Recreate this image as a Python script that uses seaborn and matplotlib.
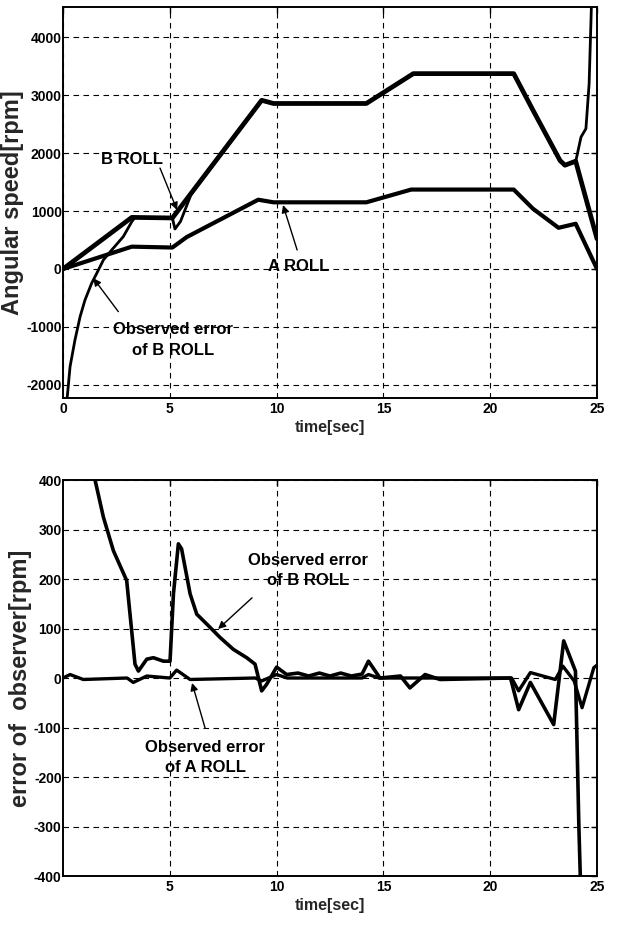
import matplotlib
matplotlib.use("Agg")
import matplotlib.pyplot as plt
import seaborn as sns

# ---------------- data ----------------
# top panel: angular speed [rpm]
t_b_roll = [0, 3.22, 5.12, 9.3, 9.85, 14.2, 16.4, 21.1, 22.0, 23.27, 23.5, 24.0, 24.2, 25.0]
v_b_roll = [0, 890, 880, 2910, 2855, 2855, 3370, 3370, 2740, 1870, 1790, 1860, 1590, 520]

t_b_obs = [0.12, 0.2, 0.33, 0.56, 0.8, 1.03, 1.34, 1.58, 1.89, 2.28, 2.82, 3.22, 3.37,
           5.12, 5.24, 5.5, 6.0, 9.3, 9.85, 14.2, 16.4, 21.1, 22.0, 23.27, 23.5, 24.0,
           24.25, 24.48, 24.63, 24.75]
v_b_obs = [-2700, -2200, -1684, -1224, -822, -534, -247, -74, 155, 328, 557, 816, 891,
           880, 690, 820, 1290, 2900, 2850, 2850, 3360, 3360, 2730, 1860, 1780, 1850,
           2276, 2420, 3195, 4700]

t_a_roll = [0, 3.22, 5.12, 5.79, 9.14, 9.85, 14.2, 16.3, 21.1, 22.0, 23.2, 24.0, 25.0]
v_a_roll = [0, 385, 370, 550, 1195, 1150, 1150, 1370, 1370, 1040, 710, 780, 0]

# bottom panel: error of observer [rpm]
t_err_b = [1.35, 1.5, 1.89, 2.36, 2.98, 3.37, 3.53, 3.92, 4.23, 4.7, 5.01, 5.17, 5.4,
           5.55, 5.95, 6.26, 6.73, 7.35, 7.97, 8.6, 8.99, 9.3, 9.53, 10.0, 10.47, 11.0,
           11.5, 12.0, 12.5, 13.0, 13.5, 14.0, 14.3, 14.84, 15.8, 16.24, 16.95, 17.65,
           20.95, 21.33, 21.88, 22.97, 23.44, 23.99, 24.15, 24.25]
v_err_b = [460, 400, 325, 257, 197, 28, 14, 38, 41, 34, 34, 170, 271,
           261, 170, 129, 109, 82, 58, 41, 28, -26, -13, 22, 7, 10,
           4, 10, 4, 10, 4, 8, 34, 0, 4, -20, 7, -3,
           0, -64, -9, -94, 75, 14, -300, -450]

t_err_a = [0, 0.33, 0.95, 3.0, 3.29, 3.92, 5.0, 5.32, 5.95, 9.0, 9.3, 10.0, 10.5, 14.0,
           14.3, 14.8, 21.0, 21.33, 21.88, 23.05, 23.4, 23.93, 24.3, 24.85, 25.0]
v_err_a = [0, 7, -3, 0, -9, 4, 0, 16, -3, 0, -6, 7, 0, 0,
           7, 0, 0, -26, 11, -3, 24, -6, -60, 21, 26]

top_yticks = [-2000, -1000, 0, 1000, 2000, 3000, 4000]
top_xticks = [0, 5, 10, 15, 20, 25]
bot_yticks = [-400, -300, -200, -100, 0, 100, 200, 300, 400]
bot_xticks = [5, 10, 15, 20, 25]

# ---------------- style ----------------
sns.set_theme(style="white")
plt.rcParams["font.family"] = ["Liberation Sans", "DejaVu Sans"]
plt.rcParams["font.weight"] = "bold"
plt.rcParams["axes.unicode_minus"] = False

fig = plt.figure(figsize=(6.19, 9.27), dpi=100)
fig.patch.set_facecolor("white")
ax1 = fig.add_axes([0.1018, 0.5707, 0.8627, 0.4218])
ax2 = fig.add_axes([0.1018, 0.0550, 0.8627, 0.4272])

def line(ax, t, v, lw):
    sns.lineplot(x=t, y=v, ax=ax, color="black", linewidth=lw, estimator=None,
                 sort=False, legend=False)

line(ax1, t_a_roll, v_a_roll, 3.0)
line(ax1, t_b_roll, v_b_roll, 3.4)
line(ax1, t_b_obs, v_b_obs, 2.0)

line(ax2, t_err_a, v_err_a, 2.4)
line(ax2, t_err_b, v_err_b, 2.6)

arrow = dict(arrowstyle="-|>", color="black", lw=1.0, shrinkA=0, shrinkB=0,
             mutation_scale=11)

def style(ax, xt, yt, ylim, ylabel, label_x):
    ax.set_xlim(0, 25)
    ax.set_ylim(*ylim)
    ax.set_xticks(xt)
    ax.set_yticks(yt)
    ax.set_xticklabels([str(v) for v in xt])
    ax.set_yticklabels([str(v) for v in yt])
    ax.grid(True, color="black", linestyle=(0, (5, 4)), linewidth=0.8)
    for s in ax.spines.values():
        s.set_color("black")
        s.set_linewidth(1.4)
    ax.tick_params(direction="in", length=4, width=1, colors="black",
                   top=True, right=True, labelsize=10, pad=3)
    ax.tick_params(axis="y", pad=1)
    for lab in ax.get_xticklabels() + ax.get_yticklabels():
        lab.set_fontweight("bold")
    ax.set_xlabel("time[sec]", fontsize=11.5, fontweight="bold", labelpad=3)
    ax.set_ylabel(ylabel, fontsize=17, fontweight="bold")
    ax.yaxis.set_label_coords(label_x, 0.5)

style(ax1, top_xticks, top_yticks, (-2225, 4520), "Angular speed[rpm]", -0.073)
style(ax2, bot_xticks, bot_yticks, (-400, 400), "error of  observer[rpm]", -0.058)

tk = dict(fontsize=12, fontweight="bold", ha="center", va="center",
          linespacing=1.45, color="black")

# top annotations
ax1.text(3.21, 1888, "B ROLL", **tk)
ax1.annotate("", xy=(5.34, 1017), xytext=(4.54, 1741), arrowprops=arrow)
ax1.text(11.03, 40, "A ROLL", **tk)
ax1.annotate("", xy=(10.3, 1103), xytext=(10.96, 328), arrowprops=arrow)
ax1.text(5.15, -1224, "Observed error\nof B ROLL", **tk)
ax1.annotate("", xy=(1.42, -160), xytext=(2.59, -736), arrowprops=arrow)

# bottom annotations
ax2.text(11.47, 217, "Observed error\nof B ROLL", **tk)
ax2.annotate("", xy=(7.26, 99), xytext=(8.85, 162), arrowprops=arrow)
ax2.text(6.65, -160, "Observed error\nof A ROLL", **tk)
ax2.annotate("", xy=(6.04, -10), xytext=(6.65, -101), arrowprops=arrow)

fig.savefig("out.png", dpi=100, facecolor="white")
